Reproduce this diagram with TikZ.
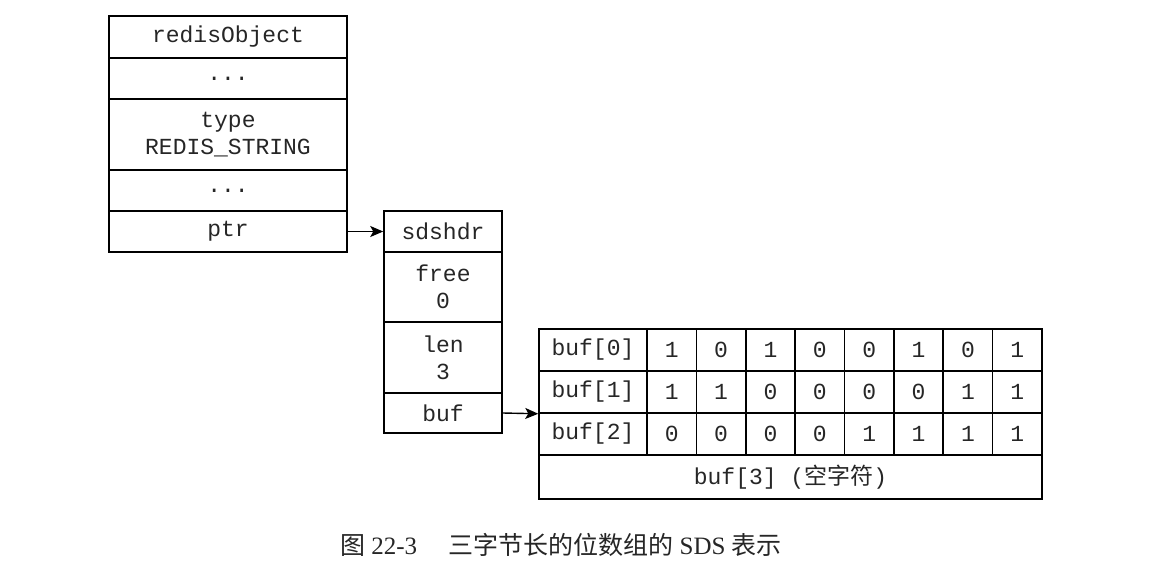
\documentclass[tikz,border=0pt]{standalone}
\usepackage{fontspec}
\setmainfont{Liberation Serif}
\setmonofont{Liberation Mono}
\newfontfamily\cjk{Noto Sans CJK SC}
\usetikzlibrary{arrows.meta}
\begin{document}
\begin{tikzpicture}[x=1pt,y=-1pt,
  cell/.style={draw, line width=1.5pt, inner sep=0pt, font=\ttfamily\fontsize{23}{27}\selectfont, text=black!85, align=center},
  arr/.style={line width=1.4pt, -{Stealth[length=13pt,width=11pt,inset=3pt]}}]
\useasboundingbox (0,0) rectangle (1171,579);
% redisObject
\node[cell, minimum width=238pt, minimum height=42pt] (ro) at (228,37) {redisObject};
\node[cell, minimum width=238pt, minimum height=41pt] (rd1) at (228,78.5) {...};
\node[cell, minimum width=238pt, minimum height=71pt] (rtype) at (228,134.5) {type\\REDIS\_STRING};
\node[cell, minimum width=238pt, minimum height=41pt] (rd2) at (228,190.5) {...};
\node[cell, minimum width=238pt, minimum height=41pt] (ptr) at (228,231.5) {ptr};
% sdshdr
\node[cell, minimum width=118pt, minimum height=41pt] (sds) at (443,231.5) {sdshdr};
\node[cell, minimum width=118pt, minimum height=70pt] (free) at (443,287) {free\\0};
\node[cell, minimum width=118pt, minimum height=71pt] (len) at (443,357.5) {len\\3};
\node[cell, minimum width=118pt, minimum height=40pt] (buf) at (443,413) {buf};
% buf table
\node[cell, minimum width=108pt, minimum height=42pt] (b0) at (593,350) {buf[0]};
\node[cell, minimum width=108pt, minimum height=42pt] (b1) at (593,392) {buf[1]};
\node[cell, minimum width=108pt, minimum height=42pt] (b2) at (593,434) {buf[2]};
\node[cell, minimum width=503pt, minimum height=44pt] (b3) at (790.5,477) {buf[3] ({\cjk 空字符})};
\foreach \r/\y/\bits in {0/350/{1,0,1,0,0,1,0,1},1/392/{1,1,0,0,0,0,1,1},2/434/{0,0,0,0,1,1,1,1}}{
  \foreach \v [count=\i from 0] in \bits {
    \node[cell, minimum width=49.4pt, minimum height=42pt] (bit\r\i) at ({647+49.375*(\i+0.5)},\y) {\v};
  }
}
% arrows
\draw[arr] (ptr.east) -- (sds.west);
\draw[arr] (buf.east) -- (b1.south west);
% caption
\node[font=\fontsize{25}{29}\selectfont, text=black!85] (cap) at (561,545) {{\cjk 图} 22-3\hspace{1.25em}{\cjk 三字节长的位数组的} SDS {\cjk 表示}};
\end{tikzpicture}
\end{document}
